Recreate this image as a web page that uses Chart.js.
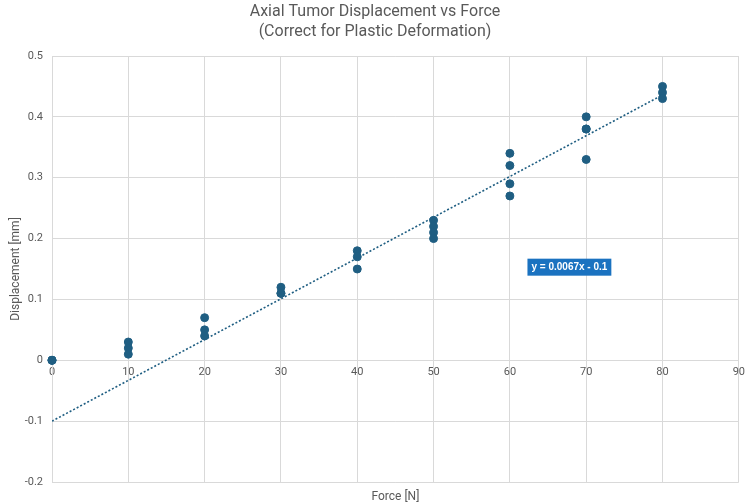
<!DOCTYPE html>
<html>
<head>
<meta charset="utf-8">
<script src="https://cdn.jsdelivr.net/npm/chart.js@4.4.1/dist/chart.umd.min.js"></script>
<style>
  html, body { margin: 0; padding: 0; background: #fff; }
  #wrap { width: 750px; height: 504px; }
</style>
</head>
<body>
<div id="wrap"><canvas id="chart"></canvas></div>
<script>
// measured points (force in N, displacement in mm)
const forceN = [0, 0, 0, 10, 10, 10, 20, 20, 20, 30, 30, 30, 40, 40, 40, 50, 50, 50, 50, 60, 60, 60, 60, 70, 70, 70, 70, 80, 80, 80];
const displacementMm = [0, 0, 0, 0.03, 0.02, 0.01, 0.07, 0.05, 0.04, 0.12, 0.11, 0.11, 0.18, 0.17, 0.15, 0.23, 0.22, 0.21, 0.20, 0.34, 0.32, 0.29, 0.27, 0.40, 0.38, 0.38, 0.33, 0.45, 0.44, 0.43];

// linear trendline endpoints (y = 0.0067x - 0.1)
const trendX = [0, 80];
const trendY = [-0.1, 0.436];
const trendLabel = "y = 0.0067x - 0.1";

const xTicks = [0, 10, 20, 30, 40, 50, 60, 70, 80, 90];
const yTicks = [-0.2, -0.1, 0, 0.1, 0.2, 0.3, 0.4, 0.5];

const FONT = "'Liberation Sans Narrow', 'Roboto', sans-serif";
const TEXT = "#595959";
const GRID = "#d9d9d9";
const MARK = "#1f5e82";

const points = forceN.map((f, i) => ({ x: f, y: displacementMm[i] }));
const trend = trendX.map((f, i) => ({ x: f, y: trendY[i] }));

// draws the trendline equation box
const equationBox = {
  id: "equationBox",
  afterDatasetsDraw(chart, args, opts) {
    const ctx = chart.ctx;
    const px = chart.scales.x.getPixelForValue(opts.atX);
    const py = chart.scales.y.getPixelForValue(opts.atY);
    ctx.save();
    ctx.font = "bold 10px 'Liberation Sans', Arial, sans-serif";
    const w = ctx.measureText(trendLabel).width + 8;
    const h = 17;
    ctx.fillStyle = "#1a72c0";
    ctx.fillRect(px - w / 2, py - h / 2, w, h);
    ctx.fillStyle = "#ffffff";
    ctx.textAlign = "center";
    ctx.textBaseline = "middle";
    ctx.fillText(trendLabel, px, py + 0.5);
    ctx.restore();
  }
};

new Chart(document.getElementById("chart"), {
  type: "scatter",
  data: {
    datasets: [
      {
        label: "Displacement",
        data: points,
        backgroundColor: MARK,
        borderColor: MARK,
        pointRadius: 4,
        pointHoverRadius: 4,
        clip: false,
        order: 1
      },
      {
        type: "line",
        label: "Linear",
        data: trend,
        borderColor: MARK,
        borderWidth: 1.6,
        borderDash: [2, 2],
        pointRadius: 0,
        fill: false,
        order: 2
      }
    ]
  },
  options: {
    responsive: true,
    maintainAspectRatio: false,
    animation: false,
    layout: { padding: { left: 9, right: 9, top: 0, bottom: 0 } },
    plugins: {
      legend: { display: false },
      tooltip: { enabled: false },
      title: {
        display: true,
        text: ["Axial Tumor Displacement vs Force", "(Correct for Plastic Deformation)"],
        color: TEXT,
        font: { family: FONT, size: 16, weight: "normal", lineHeight: 1.25 },
        padding: { top: 2, bottom: 14 }
      },
      equationBox: { atX: 67.8, atY: 0.153 }
    },
    scales: {
      x: {
        type: "linear",
        position: { y: 0 },
        min: 0,
        max: 90,
        afterBuildTicks: (s) => { s.ticks = xTicks.map((v) => ({ value: v })); },
        grid: { color: GRID, drawTicks: false },
        border: { color: GRID },
        ticks: { color: TEXT, font: { family: FONT, size: 11 }, padding: 5 }
      },
      x2: {
        type: "linear",
        position: "bottom",
        min: 0,
        max: 90,
        grid: { display: false },
        border: { display: false },
        ticks: { display: false },
        title: { display: true, text: "Force [N]", color: TEXT, font: { family: FONT, size: 12 }, padding: 0 },
        afterFit: (s) => { s.height = 22; }
      },
      y: {
        type: "linear",
        min: -0.2,
        max: 0.5,
        afterBuildTicks: (s) => { s.ticks = yTicks.map((v) => ({ value: v })); },
        grid: { color: GRID, drawTicks: false },
        border: { color: GRID },
        ticks: {
          color: TEXT,
          font: { family: FONT, size: 11 },
          padding: 9,
          callback: (v) => String(Math.round(v * 10) / 10)
        },
        title: { display: true, text: "Displacement [mm]", color: TEXT, font: { family: FONT, size: 12 }, padding: 0 },
        afterFit: (s) => { s.width = 43; }
      }
    }
  },
  plugins: [equationBox]
});
</script>
</body>
</html>
